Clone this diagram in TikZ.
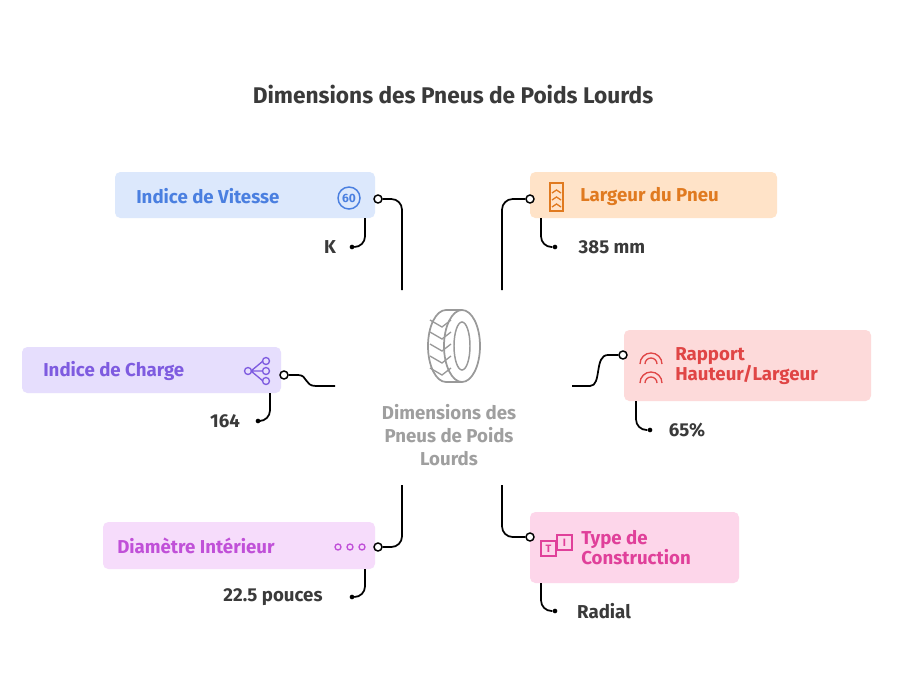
\documentclass[tikz,border=0pt]{standalone}
\usepackage{fontspec}
\setmainfont{Fira Sans}
\usetikzlibrary{calc}
\definecolor{tblue}{HTML}{4A7FE0}\definecolor{fblue}{HTML}{DCE8FC}
\definecolor{torange}{HTML}{E07A20}\definecolor{forange}{HTML}{FFE3C8}
\definecolor{tviolet}{HTML}{7E5BE0}\definecolor{fviolet}{HTML}{E6DEFD}
\definecolor{tred}{HTML}{E04545}\definecolor{fred}{HTML}{FDDADA}
\definecolor{tmag}{HTML}{C050D8}\definecolor{fmag}{HTML}{F6DCFB}
\definecolor{tpink}{HTML}{E0409A}\definecolor{fpink}{HTML}{FDD6EA}
\definecolor{dark}{HTML}{3A3A3A}
\tikzset{x=0.75pt,y=-0.75pt,
 card/.style={rounded corners=3pt,inner sep=0pt,font=\bfseries\fontsize{14}{15}\selectfont,align=left},
 val/.style={font=\bfseries\fontsize{14}{15}\selectfont,text=dark,inner sep=1pt},
 link/.style={draw=black,line width=1.3pt,rounded corners=8pt},
 curve/.style={draw=black,line width=1.3pt},
 pin/.style={circle,draw=black,fill=white,line width=1.1pt,inner sep=0pt,minimum size=6pt},
 tip/.style={circle,fill=black,inner sep=0pt,minimum size=3.5pt}}
\begin{document}
\begin{tikzpicture}
\useasboundingbox (0,0) rectangle (900,683);
\fill[white] (0,0) rectangle (900,683);
\node[font=\bfseries\fontsize{17}{18}\selectfont,text=dark] (title) at (453,94) {Dimensions des Pneus de Poids Lourds};
% boxes
\fill[fblue,rounded corners=4pt] (115,172) rectangle (375,218);
\node[card,text=tblue,anchor=west] (vit) at (136,196) {Indice de Vitesse};
\fill[forange,rounded corners=4pt] (530,172) rectangle (777,218);
\node[card,text=torange,anchor=west] (lar) at (580,196) {Largeur du Pneu};
\fill[fviolet,rounded corners=4pt] (22,347) rectangle (281,393);
\node[card,text=tviolet,anchor=west] (cha) at (43,371) {Indice de Charge};
\fill[fred,rounded corners=4pt] (624,330) rectangle (871,401);
\node[card,text=tred,anchor=west] (rap) at (675,366) {Rapport\\Hauteur/Largeur};
\fill[fmag,rounded corners=4pt] (103,522) rectangle (375,569);
\node[card,text=tmag,anchor=west] (dia) at (117,546) {Diamètre Intérieur};
\fill[fpink,rounded corners=4pt] (530,512) rectangle (739,583);
\node[card,text=tpink,anchor=west] (typ) at (581,548) {Type de\\Construction};
% icons
\draw[tblue,line width=1.1pt] (349,198) circle (11);
\node[text=tblue,font=\bfseries\fontsize{9}{9}\selectfont] (i1) at (349,198) {60};
\draw[torange,line width=1.1pt] (550,183) rectangle (563,211);
\foreach \y in {190,197,204}{\draw[torange,line width=1pt] (552,\y+3)--(556.5,\y)--(561,\y+3);}
\foreach \p in {(248,371),(266,361),(266,371),(266,381)}{\draw[tviolet,line width=1pt] \p circle (3.5);}
\draw[tviolet,line width=1pt] (251,371)--(263,361) (251,371)--(262.5,371) (251,371)--(263,381);
\draw[tred,line width=1pt] (640,364) arc (180:360:11) (645,364) arc(180:360:6) (640,383) arc (180:360:11) (645,383) arc(180:360:6);
\foreach \x in {338,350,362}{\draw[tmag,line width=1pt] (\x,547) circle (3);}
\draw[tpink,line width=1pt] (541,541) rectangle (556,556) (557,535) rectangle (572,550);
\node[text=tpink,font=\bfseries\fontsize{8}{8}\selectfont] at (548.5,548.5) {T};
\node[text=tpink,font=\bfseries\fontsize{8}{8}\selectfont] at (564.5,542.5) {I};
% tire
\draw[gray!80,line width=1.3pt] (446,310) -- (462,310) (446,382) -- (462,382);
\draw[gray!80,line width=1.3pt] (446,310) arc (-90:-270:18 and 36);
\draw[gray!80,line width=1.3pt] (462,346) ellipse (18 and 36);
\draw[gray!80,line width=1.1pt] (462,346) ellipse (8 and 24);
\foreach \y in {320,332,344,356,368}{\draw[gray!80,line width=1pt] (430,\y) -- (442,\y+7) -- (451,\y);}
\node[font=\bfseries\fontsize{14}{17}\selectfont,text=gray!75,align=center] (center) at (449,435) {Dimensions des\\Pneus de Poids\\Lourds};
% connectors
\coordinate (cTL) at (402,290); \coordinate (cTR) at (502,290);
\coordinate (cL) at (335,386); \coordinate (cR) at (572,386);
\coordinate (cBL) at (402,485); \coordinate (cBR) at (502,485);
\node[pin] (p1) at (378,199) {}; \node[pin] (p2) at (530,199) {};
\node[pin] (p3) at (284,375) {}; \node[pin] (p4) at (623,355) {};
\node[pin] (p5) at (378,547) {}; \node[pin] (p6) at (530,537) {};
\draw[link] (p1) -- (402,199) -- (cTL);
\draw[link] (p2) -- (502,199) -- (cTR);
\draw[curve] (p3) -- (298,375) .. controls (308,375) and (304,386) .. (316,386) -- (cL);
\draw[curve] (cR) -- (590,386) .. controls (602,386) and (594,355) .. (608,355) -- (p4);
\draw[link] (p5) -- (402,547) -- (cBL);
\draw[link] (p6) -- (502,537) -- (cBR);
% values
\node[val] (v1) at (330,247) {K}; \node[tip] (t1) at (352,247) {};
\draw[link] (365,218) -- (365,247) -- (t1);
\node[val] (v2) at (612,247) {385 mm}; \node[tip] (t2) at (555,247) {};
\draw[link] (541,218) -- (541,247) -- (t2);
\node[val] (v3) at (225,421) {164}; \node[tip] (t3) at (258,421) {};
\draw[link] (270,393) -- (270,421) -- (t3);
\node[val] (v4) at (687,430) {65\%}; \node[tip] (t4) at (650,430) {};
\draw[link] (636,401) -- (636,430) -- (t4);
\node[val] (v5) at (273,597) {22.5 pouces}; \node[tip] (t5) at (352,597) {};
\draw[link] (365,569) -- (365,597) -- (t5);
\node[val] (v6) at (604,611) {Radial}; \node[tip] (t6) at (555,611) {};
\draw[link] (541,583) -- (541,611) -- (t6);
\end{tikzpicture}
\end{document}
